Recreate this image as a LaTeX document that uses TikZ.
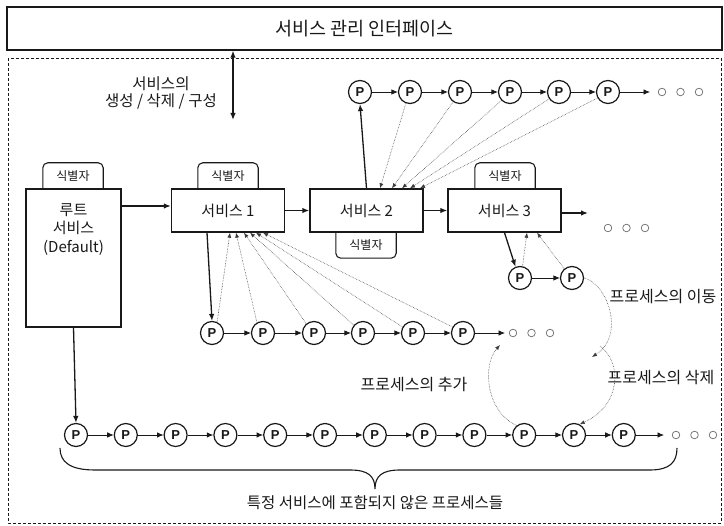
\documentclass[tikz,border=0pt]{standalone}
\usepackage{fontspec}
\setmainfont{Noto Sans CJK KR}
\newfontfamily\pfont{Liberation Sans}
\usetikzlibrary{arrows.meta}
\definecolor{ink}{RGB}{25,25,25}
\definecolor{dotc}{RGB}{60,60,60}
\definecolor{dotsc}{RGB}{110,110,110}
\begin{document}
\begin{tikzpicture}[x=1pt,y=-1pt,
  pn/.style={circle,draw=ink,fill=white,line width=1.2pt,minimum size=23pt,inner sep=0pt,font=\pfont\bfseries\fontsize{13}{13}\selectfont,text=ink},
  svc/.style={draw=ink,fill=white,line width=1.4pt,minimum width=113pt,minimum height=43pt,inner sep=0pt,font=\fontsize{15}{18}\selectfont,text=ink},
  tabtxt/.style={font=\fontsize{12}{12}\selectfont,minimum width=60pt,minimum height=26pt,inner sep=0pt,text=ink},
  tabline/.style={draw=ink,line width=1.1pt,rounded corners=5pt},
  flow/.style={draw=ink,line width=1.3pt,-{Latex[length=7pt,width=5.5pt]}},
  link/.style={draw=ink,line width=0.8pt,-{Latex[length=6.5pt,width=5.5pt]}},
  refl/.style={draw=dotc,line width=0.55pt,densely dotted,-{Latex[length=5pt,width=4pt]}},
  lbl/.style={font=\fontsize{16}{16}\selectfont,text=ink},
  ooo/.pic={\foreach \dx in {0,18.5,37} \draw[dotsc,line width=0.7pt] (\dx,0) circle (3.8pt);}
]
\useasboundingbox (0,0) rectangle (724,526);
\fill[white] (0,0) rectangle (724,526);

% interface box and dashed region
\node[draw=ink,line width=1.3pt,minimum width=715pt,minimum height=43pt,inner sep=0pt,font=\fontsize{18.5}{18.5}\selectfont,text=ink] (iface) at (364.5,28.5) {서비스 관리 인터페이스};
\draw[ink,line width=0.8pt,dash pattern=on 3pt off 2pt] (8,58) rectangle (721,523);

\coordinate (ca) at (233,120);
\draw[ink,line width=1.3pt,{Latex[length=7pt,width=5.5pt]}-{Latex[length=7pt,width=5.5pt]}] (iface.south -| ca) -- (ca);
\node[align=center,font=\fontsize{15.5}{17}\selectfont,text=ink] (ops) at (161,93) {서비스의\\생성 / 삭제 / 구성};

% root service
\node[tabtxt] (tab0) at (73,176) {식별자};
\draw[tabline] (tab0.south west) |- (tab0.north) -| (tab0.south east);
\node[draw=ink,fill=white,line width=1.4pt,minimum width=95pt,minimum height=138pt,inner sep=0pt] (root) at (73.5,258) {};
\node[align=center,anchor=north,font=\fontsize{15}{18.5}\selectfont,text=ink] (roott) at (73.5,200) {루트\\서비스\\(Default)};

% services
\node[tabtxt] (tab1) at (228,176) {식별자};
\draw[tabline] (tab1.south west) |- (tab1.north) -| (tab1.south east);
\node[tabtxt] (tab2) at (366,245) {식별자};
\draw[tabline] (tab2.north west) |- (tab2.south) -| (tab2.north east);
\node[tabtxt] (tab3) at (505,176) {식별자};
\draw[tabline] (tab3.south west) |- (tab3.north) -| (tab3.south east);

\node[svc] (s1) at (228,210.5) {서비스 1};
\node[svc] (s2) at (366.5,210.5) {서비스 2};
\node[svc] (s3) at (504.5,210.5) {서비스 3};

\draw[flow] (root.east |- 0,206) -- (s1.west |- 0,206);
\draw[flow] (s1) -- (s2);
\draw[flow] (s2) -- (s3);
\coordinate (s3e) at (588,213);
\draw[flow] (s3.east |- s3e) -- (s3e);
\pic at (608,228) {ooo};

% top chain (service 2)
\foreach \i/\x in {0/360,1/410,2/460,3/510,4/559,5/608} \node[pn] (t\i) at (\x,92) {P};
\foreach \a/\b in {0/1,1/2,2/3,3/4,4/5} \draw[link] (t\a) -- (t\b);
\coordinate (te) at (650,92);
\draw[link] (t5) -- (te);
\pic at (662,92) {ooo};
\draw[flow] (s2.north) -- (t0.south);
\draw[refl] (t1.250) -- ([xshift=13.5pt]s2.north);
\draw[refl] (t2.235) -- ([xshift=25.5pt]s2.north);
\draw[refl] (t3.225) -- ([xshift=35.5pt]s2.north);
\draw[refl] (t4.215) -- ([xshift=43.5pt]s2.north);
\draw[refl] (t5.210) -- ([xshift=53.5pt]s2.north);

% middle chain (service 1)
\foreach \i/\x in {0/212,1/263,2/314,3/363,4/413,5/463} \node[pn] (m\i) at (\x,333) {P};
\foreach \a/\b in {0/1,1/2,2/3,3/4,4/5} \draw[link] (m\a) -- (m\b);
\coordinate (me) at (505,333);
\draw[link] (m5) -- (me);
\pic at (513,333) {ooo};
\draw[flow] ([xshift=-21pt]s1.south) -- (m0.north);
\draw[refl] (m0.65) -- ([xshift=2pt]s1.south);
\draw[refl] (m1.120) -- ([xshift=8pt]s1.south);
\draw[refl] (m2.130) -- ([xshift=16pt]s1.south);
\draw[refl] (m3.140) -- ([xshift=22pt]s1.south);
\draw[refl] (m4.150) -- ([xshift=28pt]s1.south);
\draw[refl] (m5.150) -- ([xshift=35pt]s1.south);

% service 3 chain
\node[pn] (q1) at (520,278) {P};
\node[pn] (q2) at (572,278) {P};
\draw[link] (q1) -- (q2);
\draw[flow] (s3.south) -- (q1.112);
\draw[refl] (q1.78) -- ([xshift=22.5pt]s3.south);
\draw[refl] (q2.130) -- ([xshift=32.5pt]s3.south);

% bottom chain
\foreach \i in {0,...,11} \node[pn] (b\i) at ({76+49.8*\i},435) {P};
\foreach \i [evaluate=\i as \j using int(\i+1)] in {0,...,10} \draw[link] (b\i) -- (b\j);
\coordinate (be) at (664,435);
\draw[link] (b11) -- (be);
\pic at (676,435) {ooo};
\draw[flow] (root.south) -- (b0.north);

% process moves
\coordinate (mv) at (592,357);
\draw[refl] (q2.east) .. controls (607,283) and (626,335) .. (mv);
\node[lbl] (lmv) at (663,297) {프로세스의 이동};
\coordinate (dl) at (600,346);
\draw[refl] (dl) .. controls (622,362) and (622,405) .. (b10.62);
\node[lbl] (ldl) at (661,378) {프로세스의 삭제};
\coordinate (ad) at (500,345);
\draw[refl] (b9.128) .. controls (486,412) and (482,365) .. (ad);
\node[lbl] (lad) at (414,385) {프로세스의 추가};

% brace
\draw[ink,line width=1.1pt] (60,448) .. controls (60,462) and (70,470) .. (95,470) -- (350,470) .. controls (368,470) and (375,476) .. (375,489) .. controls (375,476) and (382,470) .. (400,470) -- (650,470) .. controls (670,470) and (677,462) .. (677,448);
\node[font=\fontsize{15.5}{15.5}\selectfont,text=ink] (free) at (375,503) {특정 서비스에 포함되지 않은 프로세스들};
\end{tikzpicture}
\end{document}
